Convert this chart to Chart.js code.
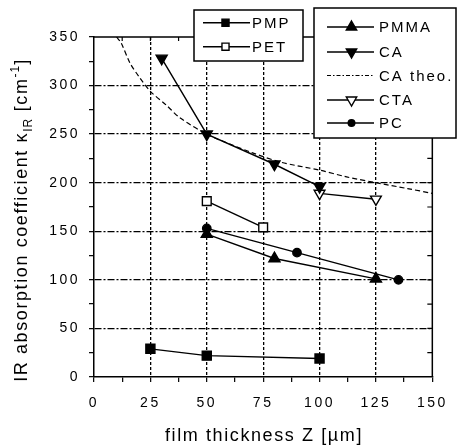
<!DOCTYPE html>
<html>
<head>
<meta charset="utf-8">
<script src="https://cdn.jsdelivr.net/npm/chart.js@4.4.1/dist/chart.umd.min.js"></script>
<style>
  html, body { margin: 0; padding: 0; background: #fff; }
  #wrap { width: 457px; height: 446px; position: relative; }
</style>
</head>
<body>
<div id="wrap"><canvas id="myChart"></canvas></div>
<script>
// film thickness Z [um] vs IR absorption coefficient
const pmpX = [25, 50, 100];
const pmpY = [29, 22, 19];
const petX = [50, 75];
const petY = [181, 154];
const pmmaX = [50, 80, 125];
const pmmaY = [147, 122, 101];
const caX = [30, 50, 80, 100];
const caY = [328, 250, 219, 196];
const caTheoX = [10, 12, 16, 20, 25, 32, 38, 50, 60, 70, 83, 100, 112, 125, 139, 150];
const caTheoY = [350, 344, 323, 309, 294, 280, 267, 250, 240, 231, 221, 213, 206, 200, 194, 189];
const ctaX = [100, 125];
const ctaY = [189, 183];
const pcX = [50, 90, 135];
const pcY = [153, 128, 100];

const xTicks = [0, 25, 50, 75, 100, 125, 150];
const yTicks = [0, 50, 100, 150, 200, 250, 300, 350];

const FONT = "'Liberation Sans', Arial, sans-serif";

function pts(xs, ys) {
  return xs.map((x, i) => ({ x: x, y: ys[i] }));
}

function series(label, xs, ys, style, radius, fill, rotation) {
  return {
    label: label,
    data: pts(xs, ys),
    borderColor: "#000",
    borderWidth: 1.4,
    pointStyle: style,
    pointRadius: radius,
    pointRotation: rotation || 0,
    pointBackgroundColor: fill,
    pointBorderColor: "#000",
    pointBorderWidth: 1.4,
    tension: 0,
  };
}

var data = {
  datasets: [
    {
      label: "CA theo.",
      data: pts(caTheoX, caTheoY),
      borderColor: "#000",
      borderWidth: 1.2,
      borderDash: [5, 3],
      pointRadius: 0,
      tension: 0.3,
    },
    series("PMP", pmpX, pmpY, "rect", 6.4, "#000"),
    series("PET", petX, petY, "rect", 6.2, "#fff"),
    series("PMMA", pmmaX, pmmaY, "triangle", 6.4, "#000"),
    series("CA", caX, caY, "triangle", 6.4, "#000", 180),
    series("CTA", ctaX, ctaY, "triangle", 6.2, "#fff", 180),
    series("PC", pcX, pcY, "circle", 4.2, "#000"),
  ],
};

// legend entries: [label, style, fill, rotation, radius, dashed]
const legendLeft = [
  ["PMP", "rect", "#000", 0, 5],
  ["PET", "rect", "#fff", 0, 5],
];
const legendRight = [
  ["PMMA", "triangle", "#000", 0, 6],
  ["CA", "triangle", "#000", 180, 6],
  ["CA theo.", null, null, 0, 0, true],
  ["CTA", "triangle", "#fff", 180, 6],
  ["PC", "circle", "#000", 0, 3.3],
];

function marker(ctx, style, fill, rot, r, x, y) {
  ctx.save();
  ctx.setLineDash([]);
  ctx.fillStyle = fill;
  ctx.strokeStyle = "#000";
  ctx.lineWidth = 1.4;
  ctx.beginPath();
  if (style === "rect") {
    const s = r * Math.SQRT1_2;
    ctx.rect(x - s, y - s, 2 * s, 2 * s);
  } else if (style === "circle") {
    ctx.arc(x, y, r, 0, Math.PI * 2);
  } else if (style === "triangle") {
    const a = (rot * Math.PI) / 180;
    for (let k = 0; k < 3; k++) {
      const t = a + (k * 2 * Math.PI) / 3;
      const px = x + Math.sin(t) * r;
      const py = y - Math.cos(t) * r;
      if (k === 0) ctx.moveTo(px, py);
      else ctx.lineTo(px, py);
    }
    ctx.closePath();
  }
  ctx.fill();
  ctx.stroke();
  ctx.restore();
}

function legendBox(ctx, x1, y1, x2, y2, items, lx1, lx2, mx, tx, ys) {
  ctx.save();
  ctx.setLineDash([]);
  ctx.fillStyle = "#fff";
  ctx.fillRect(x1, y1, x2 - x1, y2 - y1);
  ctx.strokeStyle = "#000";
  ctx.lineWidth = 1.5;
  ctx.strokeRect(x1, y1, x2 - x1, y2 - y1);
  ctx.font = "15px " + FONT;
  ctx.letterSpacing = "2px";
  ctx.fillStyle = "#000";
  ctx.textBaseline = "middle";
  items.forEach((it, i) => {
    const y = ys[i];
    ctx.beginPath();
    ctx.lineWidth = it[5] ? 1.2 : 1.4;
    ctx.setLineDash(it[5] ? [4, 2, 1.5, 2] : []);
    ctx.moveTo(lx1, y);
    ctx.lineTo(lx2, y);
    ctx.stroke();
    ctx.setLineDash([]);
    if (it[1]) marker(ctx, it[1], it[2], it[3], it[4], mx, y);
    ctx.fillText(it[0], tx, y + 1);
  });
  ctx.restore();
}

const overlay = {
  id: "overlay",
  beforeDraw(chart) {
    chart.ctx.letterSpacing = "2.5px";
  },
  afterDraw(chart) {
    const ctx = chart.ctx;
    const xs = chart.scales.x;
    const ys = chart.scales.y;
    const a = chart.chartArea;
    ctx.save();
    ctx.setLineDash([]);
    ctx.strokeStyle = "#000";
    ctx.lineWidth = 1.5;
    // top and right frame
    ctx.beginPath();
    ctx.moveTo(a.left, a.top);
    ctx.lineTo(a.right, a.top);
    ctx.lineTo(a.right, a.bottom);
    ctx.stroke();
    // inward ticks on top and right
    ctx.lineWidth = 1.2;
    ctx.beginPath();
    for (let v = 12.5; v < 150; v += 12.5) {
      const px = xs.getPixelForValue(v);
      ctx.moveTo(px, a.top);
      ctx.lineTo(px, a.top + 4);
    }
    for (let v = 25; v < 350; v += 25) {
      const py = ys.getPixelForValue(v);
      ctx.moveTo(a.right, py);
      ctx.lineTo(a.right - 5, py);
    }
    ctx.stroke();

    // axis titles
    ctx.fillStyle = "#000";
    ctx.font = "18px " + FONT;
    ctx.letterSpacing = "1.6px";
    ctx.textAlign = "center";
    ctx.textBaseline = "alphabetic";
    ctx.fillText("film thickness Z [\u00b5m]", 264, 441);

    // y title with subscript and superscript
    const parts = [
      ["IR absorption coefficient \u03ba", 18, 0],
      ["IR", 12, 5],
      [" [cm", 18, 0],
      ["-1", 12, -8],
      ["]", 18, 0],
    ];
    ctx.textAlign = "left";
    let total = 0;
    parts.forEach((p) => {
      ctx.font = p[1] + "px " + FONT;
      ctx.letterSpacing = p[1] === 18 ? "1.6px" : "1px";
      p.push(ctx.measureText(p[0]).width);
      total += p[3];
    });
    ctx.translate(27, 220);
    ctx.rotate(-Math.PI / 2);
    let cx = -total / 2;
    parts.forEach((p) => {
      ctx.font = p[1] + "px " + FONT;
      ctx.letterSpacing = p[1] === 18 ? "1.6px" : "1px";
      ctx.fillText(p[0], cx, p[2]);
      cx += p[3];
    });
    ctx.restore();

    legendBox(ctx, 194, 10, 303, 61, legendLeft, 203, 250, 225.5, 252, [22.7, 46.7]);
    legendBox(ctx, 314, 8, 456, 138, legendRight, 327, 374, 351.5, 379, [27, 52, 75.5, 100, 123]);
  },
};

var ctx = document.getElementById("myChart").getContext("2d");
var chart = new Chart(ctx, {
  type: "scatter",
  data: data,
  plugins: [overlay],
  options: {
    animation: false,
    responsive: true,
    maintainAspectRatio: false,
    showLine: true,
    layout: {
      padding: { top: 37, right: 24, left: 0, bottom: 0 },
    },
    plugins: {
      legend: { display: false },
      tooltip: { enabled: false },
    },
    scales: {
      x: {
        type: "linear",
        min: 0,
        max: 150,
        afterFit: (s) => { s.height = 69; },
        afterBuildTicks: (s) => {
          const t = [];
          for (let v = 0; v <= 150; v += 12.5) t.push({ value: v });
          s.ticks = t;
        },
        ticks: {
          autoSkip: false,
          maxRotation: 0,
          padding: 13,
          color: "#000",
          font: { family: FONT, size: 14 },
          callback: (v) => (xTicks.includes(v) ? String(v) : ""),
        },
        grid: {
          color: (c) => {
            const v = c.tick ? c.tick.value : 0;
            return v % 25 === 0 && v > 0 && v < 150 ? "#000" : "rgba(0,0,0,0)";
          },
          tickColor: "#000",
          tickLength: 5,
          tickWidth: 1.2,
          lineWidth: 1.3,
        },
        border: { display: true, color: "#000", width: 1.5, dash: [3, 2] },
      },
      y: {
        type: "linear",
        min: 0,
        max: 350,
        afterFit: (s) => { s.width = 94; },
        afterBuildTicks: (s) => {
          const t = [];
          for (let v = 0; v <= 350; v += 25) t.push({ value: v });
          s.ticks = t;
        },
        ticks: {
          autoSkip: false,
          padding: 9,
          color: "#000",
          font: { family: FONT, size: 14 },
          callback: (v) => (yTicks.includes(v) ? String(v) : ""),
        },
        grid: {
          color: (c) => {
            const v = c.tick ? c.tick.value : 0;
            return v % 50 === 0 && v > 0 && v < 350 ? "#000" : "rgba(0,0,0,0)";
          },
          tickColor: "#000",
          tickLength: 5,
          tickWidth: 1.2,
          lineWidth: 1.3,
        },
        border: { display: true, color: "#000", width: 1.5, dash: [7, 2, 2, 2] },
      },
    },
  },
});
</script>
</body>
</html>
